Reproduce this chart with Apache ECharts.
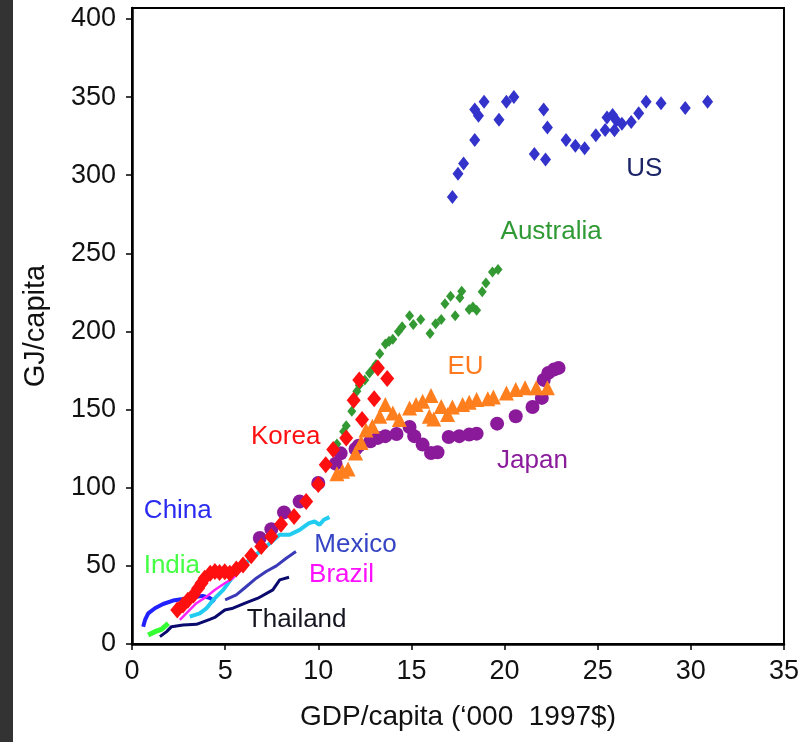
<!DOCTYPE html>
<html style="height: 100%">
<head>
<meta charset="utf-8">
</head>
<body style="height: 100%; margin: 0; background: #fff">
<div id="container" style="width: 802px; height: 742px"></div>
<script type="text/javascript" src="https://cdn.jsdelivr.net/npm/echarts@6/dist/echarts.min.js"></script>
<script type="text/javascript">
// GDP per capita ('000 1997$) vs energy use (GJ per capita)
var usData = [[17.2,286],[17.5,301],[17.8,307.5],[18.4,322.6],[18.4,342],[18.6,338],[18.9,347],[19.7,335.5],[20.1,347],[20.5,350],
  [21.6,313.5],[22.1,342],[22.2,310],[22.3,330.6],[23.3,322.6],[23.8,318.8],[24.3,317.3],[24.9,325.6],[25.4,329],[25.5,337],
  [25.8,338.5],[25.9,328.8],[26.0,335],[26.3,333],[26.8,334],[27.2,339.7],[27.6,347],[28.4,346],[29.7,343],[30.9,347]];
var australiaData = [[11.0,128],[11.36,136],[11.5,139.7],[11.8,149],[11.9,155],[12.07,161.7],[12.2,165.6],[12.5,169],[12.75,173.5],
  [12.97,176.7],[13.1,178.8],[13.3,185.7],[13.6,192],[13.8,193.8],[14.0,195],[14.3,200],[14.5,203],[14.9,210],[15.1,204.5],
  [15.5,207.7],[16.0,198.7],[16.3,205],[16.6,207.7],[16.8,217.7],[17.1,222.6],[17.35,210],[17.6,221.6],[17.7,225.8],[18.1,214],
  [18.3,215.6],[18.5,213.5],[18.8,225.4],[19.0,231],[19.35,238],[19.65,239.7]];
var euData = [[11.0,109],[11.3,110.5],[11.6,112],[12.0,122.2],[12.3,129],[12.56,137],[12.9,139.3],[13.3,145.7],[13.6,153.2],
  [14.0,147.9],[14.35,143.6],[14.9,151],[15.25,153.2],[15.6,155.3],[16.05,159],[15.96,145.7],[16.2,144],[16.6,152],[16.94,146.8],
  [17.2,151.7],[17.75,153.2],[18.1,154.7],[18.5,156.4],[19.1,156.9],[19.4,158],[20.1,160.7],[20.6,162.8],[21.1,164],[21.7,164],[22.3,164]];
var japanData = [[6.86,67.8],[7.48,73.5],[8.16,84.2],[9.0,91.2],[10.0,103],[10.93,115.4],[11.2,122],[12.0,124.8],[12.17,126.9],
  [12.8,129.7],[13.2,131.9],[13.6,133],[14.2,134.4],[14.9,138.9],[15.15,133],[15.6,127.6],[16.05,122.2],[16.4,122.7],[17.0,132.5],
  [17.57,133],[18.1,134],[18.5,134.6],[19.6,141],[20.6,145.7],[21.5,151.7],[22.0,157.5],[22.1,169],[22.35,173.5],[22.65,175.6],[22.9,176.7]];
var koreaData = [[2.43,21.8],[2.74,25],[3.0,28],[3.3,31.4],[3.55,35.7],[3.73,38.9],[3.9,42],[4.2,45.3],[4.45,46.4],[4.7,45.7],
  [4.98,46.3],[5.25,45.3],[5.6,48],[5.96,50.6],[6.4,56.4],[6.94,62.4],[7.48,68.8],[8.0,76.7],[8.7,81.6],[9.35,91.2],[10.0,102],
  [10.4,114.7],[10.8,124.4],[11.5,131.8],[11.9,156],[12.2,169],[12.35,143.6],[13.0,157],[13.2,176.7],[13.7,169.9]];
var chinaData = [[0.6,11],[0.7,15.4],[0.87,19.6],[1.23,22.9],[1.67,25.6],[2.2,27.8],[2.74,28.8],[3.28,29.9],[3.8,30.8],[4.2,29.3],[4.44,27.1]];
var indiaData = [[0.87,5.8],[1.23,7.9],[1.58,9.4],[1.95,13.2]];
var thailandData = [[1.5,4.7],[1.86,7.9],[2.12,11.1],[2.74,12.2],[3.46,12.6],[4.18,15.8],[4.44,17],[4.98,21.8],[5.42,22.9],
  [6.14,26.5],[6.76,29.3],[7.56,34.6],[7.93,41],[8.43,42.7]];
var brazilData = [[2.57,15.4],[3.1,21.8],[3.46,26.1],[4.0,30.3],[4.44,34.6],[4.98,38.9],[5.42,42.1],[5.78,46.3],[5.96,48.7]];
var cyanData = [[3.1,17.5],[3.64,19.6],[4.0,22.9],[4.36,28.2],[4.9,34.6],[5.42,43.1],[5.78,49.1],[6.32,53.8],[6.86,59.2],[7.4,64.5],
  [7.93,69.9],[8.46,69.9],[9.0,73],[9.5,77.3],[9.8,78.4],[10.07,76.3],[10.3,79.5],[10.6,81.2]];
var mexicoData = [[5.0,28.2],[5.6,31.4],[6.14,36.8],[6.67,42.1],[7.2,46.4],[7.75,50],[8.28,54.9],[8.8,59.2]];

var labelNames = ['US', 'Australia', 'EU', 'Korea', 'Japan', 'China', 'Mexico', 'India', 'Brazil', 'Thailand'];
var labelX = [27.5, 22.5, 17.9, 8.25, 21.5, 2.46, 12.0, 2.14, 11.25, 8.84];
var labelY = [303.8, 264, 177.6, 132.7, 117.3, 85.3, 63.5, 50, 44.2, 15.4];
var labelColors = ['#1a2466', '#2f9a35', '#ff7a1f', '#ff1010', '#8a1c9c', '#2a2af0', '#3444c4', '#44ff44', '#ff10ff', '#151520'];

var yTicks = [0, 50, 100, 150, 200, 250, 300, 350, 400];

var FONT = 'Liberation Sans, Arial, sans-serif';

var labelItems = labelNames.map(function (n, i) {
    return {
        name: n,
        value: [labelX[i], labelY[i]],
        label: { color: labelColors[i] }
    };
});

function lineSeries(name, data, color, width) {
    return {
        name: name, type: 'line', data: data, symbol: 'none', smooth: false,
        lineStyle: { color: color, width: width }, z: 2, silent: true
    };
}

var dom = document.getElementById('container');
var myChart = echarts.init(dom, null, { renderer: 'canvas' });

var option = {
    backgroundColor: '#fff',
    animation: false,
    graphic: [{
        type: 'rect', left: 0, top: 0, z: 100,
        shape: { width: 13, height: 742 },
        style: { fill: '#333333' }
    }],
    grid: {
        left: 132, right: 18, top: 8, bottom: 98,
        show: true, borderColor: '#000', borderWidth: 2, backgroundColor: '#fff'
    },
    xAxis: {
        type: 'value', min: 0, max: 35, interval: 5,
        name: 'GDP/capita (\u2018000  1997$)', nameLocation: 'middle', nameGap: 59,
        nameTextStyle: { fontFamily: FONT, fontSize: 28, color: '#111' },
        axisLine: { show: true, lineStyle: { color: '#000', width: 2.5 } },
        axisTick: { show: true, length: 6, lineStyle: { color: '#000', width: 1.5 } },
        axisLabel: { fontFamily: FONT, fontSize: 27, color: '#111', margin: 14 },
        splitLine: { show: false }
    },
    yAxis: {
        type: 'value', min: 0, max: 407,
        name: 'GJ/capita', nameLocation: 'middle', nameGap: 82,
        nameTextStyle: { fontFamily: FONT, fontSize: 29, color: '#111' },
        axisLine: { show: true, lineStyle: { color: '#000', width: 2.5 } },
        axisTick: { show: true, length: 6, customValues: yTicks, lineStyle: { color: '#000', width: 1.5 } },
        axisLabel: { fontFamily: FONT, fontSize: 27, color: '#111', margin: 16, customValues: yTicks },
        splitLine: { show: false }
    },
    series: [
        lineSeries('China', chinaData, '#2222ff', 4),
        lineSeries('India', indiaData, '#33ff33', 5),
        lineSeries('Thailand', thailandData, '#0a0a6e', 3),
        lineSeries('Mexico', mexicoData, '#3a3ab8', 3),
        lineSeries('Other', cyanData, '#22ccf0', 4),
        lineSeries('Brazil', brazilData, '#ff22ff', 2.5),
        {
            name: 'Japan', type: 'scatter', data: japanData, symbol: 'circle', symbolSize: 14,
            itemStyle: { color: '#8b1a9b', opacity: 1 }, z: 3
        },
        {
            name: 'EU', type: 'scatter', data: euData, symbol: 'triangle', symbolSize: 15,
            itemStyle: { color: '#ff7f1f', opacity: 1 }, z: 4
        },
        {
            name: 'Australia', type: 'scatter', data: australiaData, symbol: 'diamond', symbolSize: [9, 11],
            itemStyle: { color: '#339933', opacity: 1 }, z: 5
        },
        {
            name: 'Korea', type: 'scatter', data: koreaData, symbol: 'diamond', symbolSize: [14, 17],
            itemStyle: { color: '#ff0f0f', opacity: 1 }, z: 6
        },
        {
            name: 'US', type: 'scatter', data: usData, symbol: 'diamond', symbolSize: [11, 14],
            itemStyle: { color: '#3333cc', opacity: 1 }, z: 7
        },
        {
            name: 'labels', type: 'scatter', data: labelItems, symbolSize: 1,
            itemStyle: { color: 'rgba(0,0,0,0)', opacity: 1 }, z: 10, silent: true,
            label: {
                show: true, position: 'inside', formatter: '{b}',
                fontFamily: FONT, fontSize: 26
            }
        }
    ]
};

if (option && typeof option === 'object') {
    myChart.setOption(option, true);
}
</script>
</body>
</html>
